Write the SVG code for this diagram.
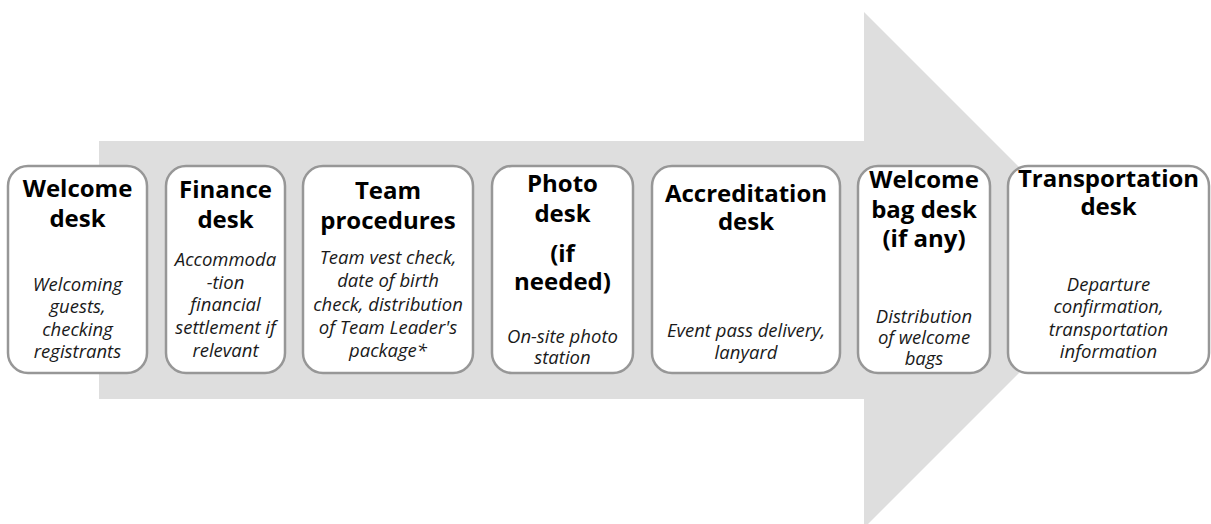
<svg xmlns="http://www.w3.org/2000/svg" width="1211" height="524" viewBox="0 0 1211 524">
  <style>
    .box { fill: #ffffff; stroke: #979797; stroke-width: 2.5; }
    .title { font-family: "Open Sans", "Liberation Sans", sans-serif; font-weight: 700; font-size: 24px; fill: #000000; text-anchor: middle; }
    .desc { font-family: "Open Sans", "Liberation Sans", sans-serif; font-style: italic; font-size: 18.5px; fill: #1a1a1a; text-anchor: middle; }
  </style>
  <rect width="1211" height="524" fill="#ffffff"/>

  <!-- Big background process arrow -->
  <g id="connectors">
    <polygon points="99,141 864,141 864,12 1122,270 864,528 864,399 99,399" fill="#dedede"/>
  </g>

  <g id="welcome-desk">
    <rect class="box" x="8" y="166" width="139" height="207" rx="20" ry="20"/>
    <text class="title" x="77.5" y="197">Welcome</text>
    <text class="title" x="77.5" y="227">desk</text>
    <text class="desc" x="77.5" y="291">Welcoming</text>
    <text class="desc" x="77.5" y="313">guests,</text>
    <text class="desc" x="77.5" y="335.5">checking</text>
    <text class="desc" x="77.5" y="358">registrants</text>
  </g>

  <g id="finance-desk">
    <rect class="box" x="166" y="166" width="119" height="207" rx="20" ry="20"/>
    <text class="title" x="225.5" y="198">Finance</text>
    <text class="title" x="225.5" y="228">desk</text>
    <text class="desc" x="225.5" y="266">Accommoda</text>
    <text class="desc" x="225.5" y="288.5">-tion</text>
    <text class="desc" x="225.5" y="311">financial</text>
    <text class="desc" x="225.5" y="334">settlement if</text>
    <text class="desc" x="225.5" y="356.5">relevant</text>
  </g>

  <g id="team-procedures">
    <rect class="box" x="303" y="166" width="170" height="207" rx="20" ry="20"/>
    <text class="title" x="388" y="199">Team</text>
    <text class="title" x="388" y="229">procedures</text>
    <text class="desc" x="388" y="264">Team vest check,</text>
    <text class="desc" x="388" y="287">date of birth</text>
    <text class="desc" x="388" y="310.5">check, distribution</text>
    <text class="desc" x="388" y="334">of Team Leader's</text>
    <text class="desc" x="388" y="357">package*</text>
  </g>

  <g id="photo-desk">
    <rect class="box" x="492" y="166" width="141" height="207" rx="20" ry="20"/>
    <text class="title" x="562.5" y="192">Photo</text>
    <text class="title" x="562.5" y="222">desk</text>
    <text class="title" x="562.5" y="262">(if</text>
    <text class="title" x="562.5" y="290">needed)</text>
    <text class="desc" x="562.5" y="342.5">On-site photo</text>
    <text class="desc" x="562.5" y="364">station</text>
  </g>

  <g id="accreditation-desk">
    <rect class="box" x="652" y="166" width="188" height="207" rx="20" ry="20"/>
    <text class="title" x="746" y="202">Accreditation</text>
    <text class="title" x="746" y="230">desk</text>
    <text class="desc" x="746" y="337">Event pass delivery,</text>
    <text class="desc" x="746" y="359">lanyard</text>
  </g>

  <g id="welcome-bag-desk">
    <rect class="box" x="858" y="166" width="132" height="207" rx="20" ry="20"/>
    <text class="title" x="924" y="188">Welcome</text>
    <text class="title" x="924" y="218">bag desk</text>
    <text class="title" x="924" y="247">(if any)</text>
    <text class="desc" x="924" y="323">Distribution</text>
    <text class="desc" x="924" y="344">of welcome</text>
    <text class="desc" x="924" y="365">bags</text>
  </g>

  <g id="transportation-desk">
    <rect class="box" x="1008" y="166" width="201" height="207" rx="20" ry="20"/>
    <text class="title" x="1108.5" y="187">Transportation</text>
    <text class="title" x="1108.5" y="215">desk</text>
    <text class="desc" x="1108.5" y="291">Departure</text>
    <text class="desc" x="1108.5" y="313">confirmation,</text>
    <text class="desc" x="1108.5" y="336">transportation</text>
    <text class="desc" x="1108.5" y="358">information</text>
  </g>
</svg>
